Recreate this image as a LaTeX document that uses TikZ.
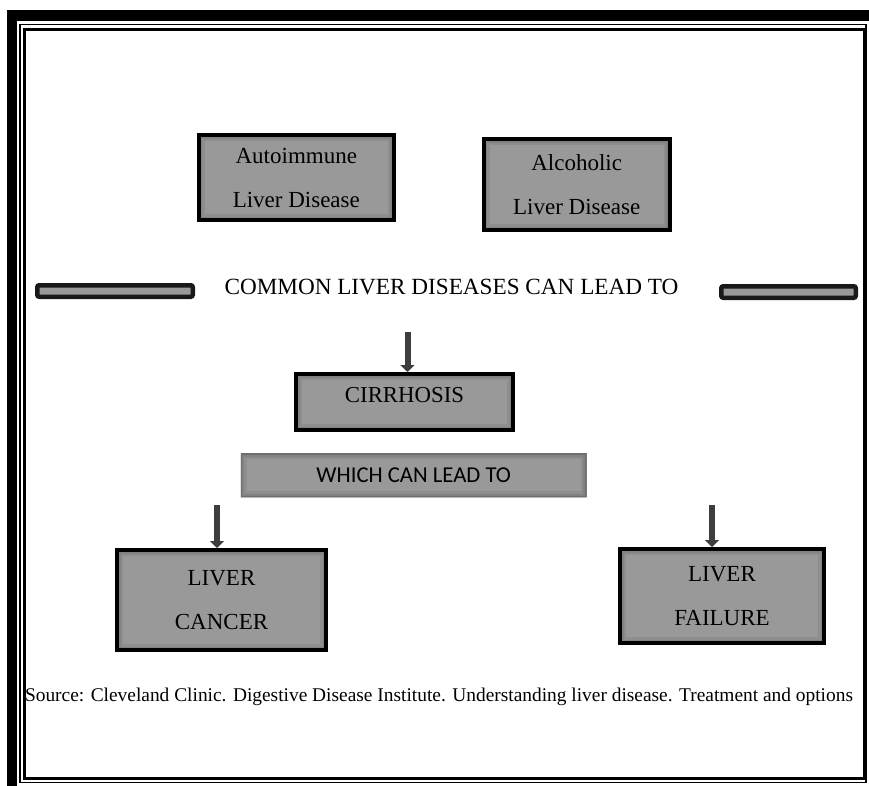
\documentclass[tikz,border=0pt]{standalone}
\usepackage{fontspec}
\setmainfont{Liberation Serif}
\newfontfamily\calibri{Carlito}
\usepackage{xcolor}
\usepackage{tikz}
\usetikzlibrary{arrows.meta}
\definecolor{lGray}{RGB}{153,153,153}
\definecolor{lDark}{RGB}{62,62,62}
\tikzset{
innershade/.style={path picture={\foreach \w/\o in {12/0.07,7/0.09,3/0.14}
  \draw[black,opacity=\o,line width=\w pt] (path picture bounding box.south west) rectangle (path picture bounding box.north east);}},
diseasebox/.style={rectangle,draw=black,line width=4pt,fill=lGray,inner sep=0pt,align=center,font=\fontsize{23}{44}\selectfont,innershade},
leadbox/.style={rectangle,fill=lGray,inner sep=0pt,align=center,font=\calibri\fontsize{22.7}{26}\selectfont,innershade},
sidebar/.style={rectangle,rounded corners=2pt,draw=black!90,line width=4.5pt,fill=lGray,inner sep=0pt,minimum height=11.5pt},
downarrow/.style={-{Triangle[length=7pt,width=14pt]},line width=6pt,draw=lDark}
}
\begin{document}
\begin{tikzpicture}[x=1pt,y=-1pt]
\useasboundingbox[fill=white] (0,0) rectangle (869,786);
\fill[black] (7,10) rectangle (869,21);
\fill[black] (7,10) rectangle (17,786);
\draw[line width=1.2pt] (20,24.5) rectangle (866,782.5);
\draw[line width=3pt] (24.5,29.5) rectangle (864,778.5);
\node[diseasebox,minimum width=195pt,minimum height=85pt] (auto) at (296.3,178) {Autoimmune\\Liver Disease};
\node[diseasebox,minimum width=186pt,minimum height=91pt] (alco) at (576.7,185) {Alcoholic\\Liver Disease};
\node[sidebar,minimum width=155.5pt] (barL) at (115,291) {};
\node[sidebar,minimum width=134.5pt] (barR) at (788.5,292) {};
\node[font=\fontsize{23.2}{26}\selectfont] (common) at (451.5,287) {COMMON LIVER DISEASES CAN LEAD TO};
\node[diseasebox,minimum width=217pt,minimum height=56pt,font=\fontsize{22.8}{26}\selectfont,text height=16pt,text depth=15pt] (cirr) at (404.5,402) {CIRRHOSIS};
\node[leadbox,minimum width=346pt,minimum height=44pt] (which) at (413.7,475) {WHICH CAN LEAD TO};
\node[diseasebox,minimum width=209pt,minimum height=100pt] (cancer) at (221.5,600) {LIVER\\CANCER};
\node[diseasebox,minimum width=204pt,minimum height=94pt] (failure) at (722,596) {LIVER\\FAILURE};
\node[font=\fontsize{19.4}{22}\selectfont] (source) at (439,697) {Source: Cleveland Clinic. Digestive Disease Institute. Understanding liver disease. Treatment and options};
\coordinate (a1) at (407.5,332);
\coordinate (a2) at (217,505);
\coordinate (a3) at (712,505);
\draw[downarrow] (a1) -- (cirr.north -| a1);
\draw[downarrow] (a2) -- (cancer.north -| a2);
\draw[downarrow] (a3) -- (failure.north -| a3);
\end{tikzpicture}
\end{document}
